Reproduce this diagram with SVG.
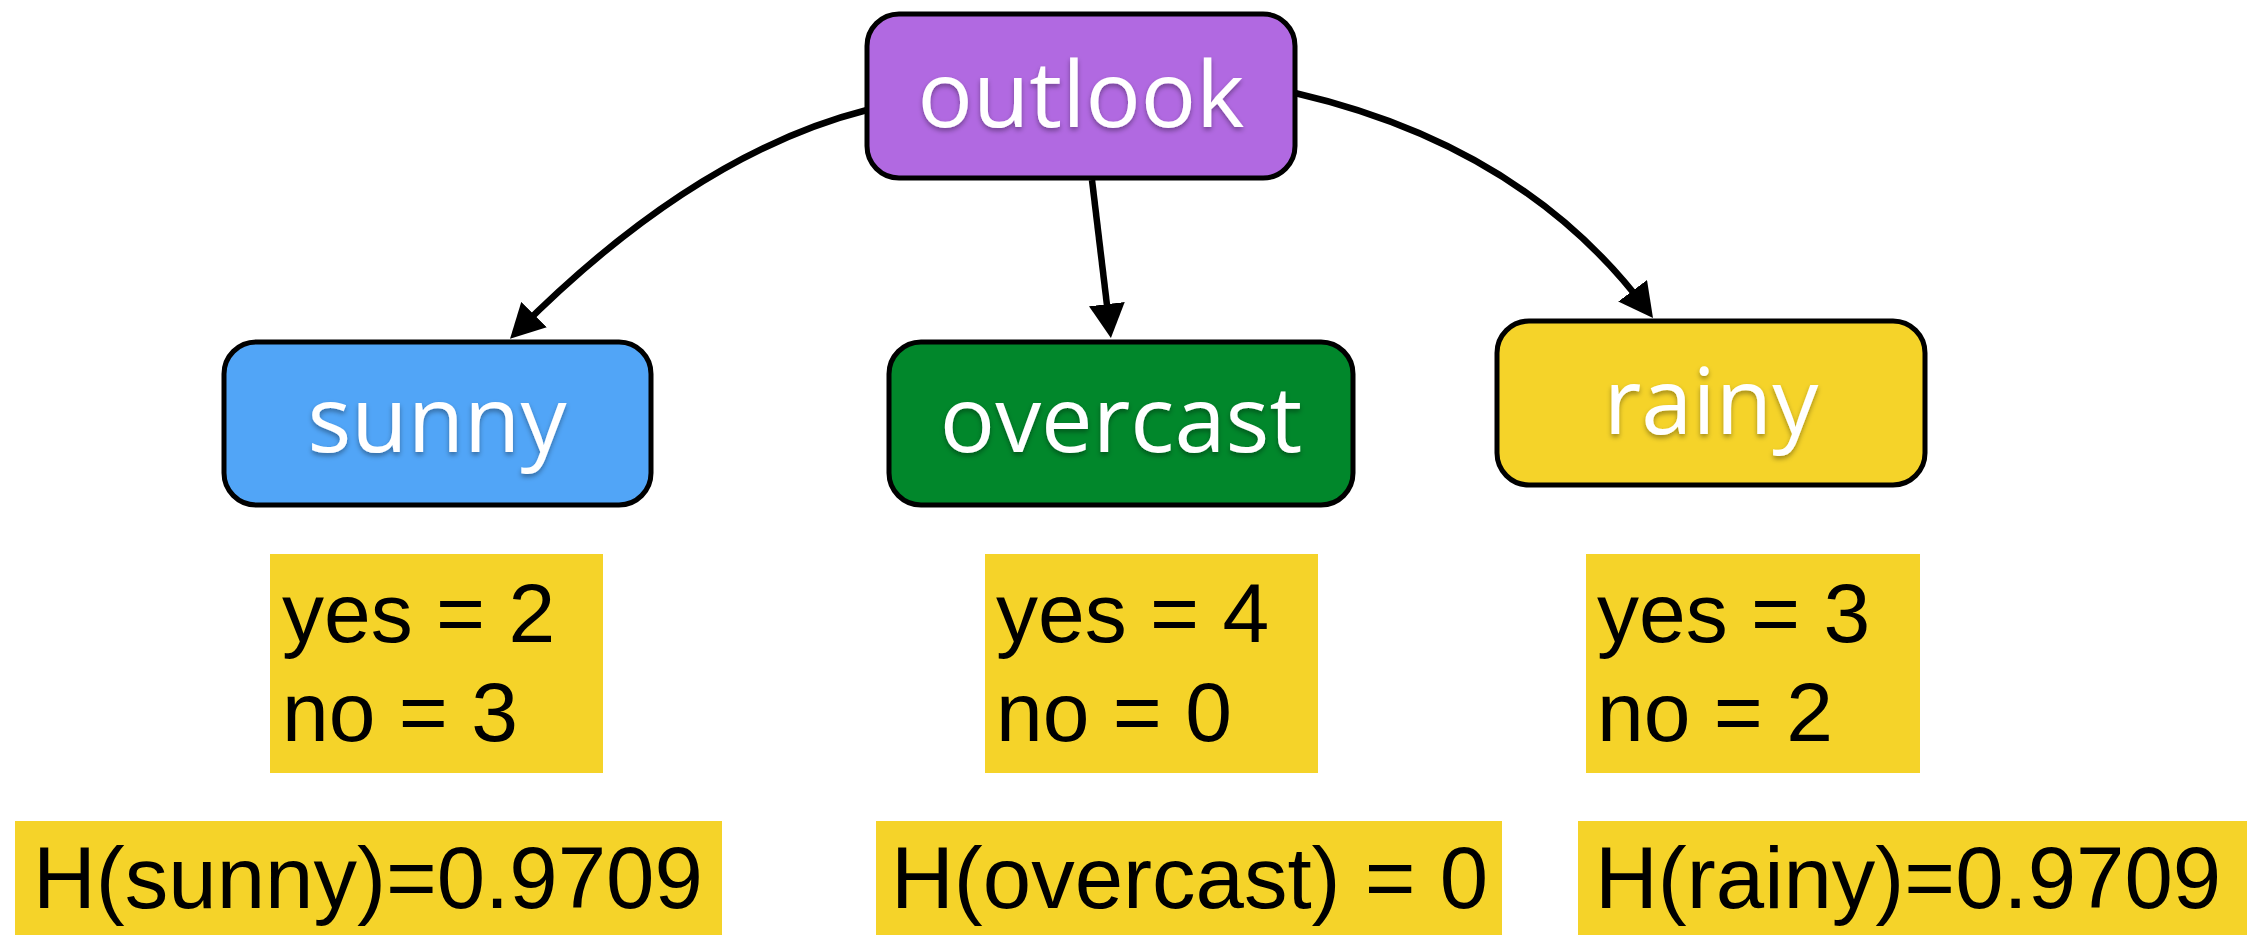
<svg xmlns="http://www.w3.org/2000/svg" width="2250" height="935" viewBox="0 0 2250 935">
  <style>
    .node { stroke: #000; stroke-width: 5; }
    .lbl { font-family: "Open Sans", "Noto Sans", sans-serif; font-size: 92px; fill: #fff; text-anchor: middle; filter: url(#shadow); }
    .stat { fill: #F5D329; }
    .st { font-family: "Liberation Sans", Arial, sans-serif; font-size: 84px; fill: #000; }
    .ht { font-family: "Liberation Sans", Arial, sans-serif; font-size: 87px; fill: #000; }
    .edge { fill: none; stroke: #000; stroke-width: 6.5; marker-end: url(#arrow); }
  </style>
  <defs>
    <marker id="arrow" markerUnits="userSpaceOnUse" viewBox="0 0 34 36" markerWidth="34" markerHeight="36" refX="23" refY="18" orient="auto">
      <path d="M0,0 L34,18 L0,36 z" fill="#000"/>
    </marker>
    <filter id="shadow" x="-10%" y="-20%" width="120%" height="150%">
      <feDropShadow dx="0" dy="3" stdDeviation="2.5" flood-color="#000" flood-opacity="0.35"/>
    </filter>
  </defs>
  <rect width="2250" height="935" fill="#fff"/>

  <g id="connectors">
    <path class="edge" d="M867,110 Q694,154 517.8,330.9"/>
    <path class="edge" d="M1092,180 L1109.6,327"/>
    <path class="edge" d="M1295,93 Q1524,146 1646.4,309.2"/>
  </g>

  <g id="node-outlook">
    <rect class="node" x="867" y="14" width="428" height="164" rx="32" fill="#B169E1"/>
    <text class="lbl" x="1081" y="127">outlook</text>
  </g>
  <g id="node-sunny">
    <rect class="node" x="224" y="342" width="427" height="163" rx="32" fill="#51A5F7"/>
    <text class="lbl" x="437" y="452">sunny</text>
  </g>
  <g id="node-overcast">
    <rect class="node" x="889" y="342" width="464" height="163" rx="32" fill="#01872B"/>
    <text class="lbl" x="1121" y="452">overcast</text>
  </g>
  <g id="node-rainy">
    <rect class="node" x="1497" y="321" width="428" height="164" rx="32" fill="#F5D329"/>
    <text class="lbl" x="1711" y="434">rainy</text>
  </g>

  <g id="counts-sunny">
    <rect class="stat" x="270" y="554" width="333" height="219"/>
    <text class="st" x="282" y="642">yes = 2</text>
    <text class="st" x="282" y="741">no = 3</text>
  </g>
  <g id="counts-overcast">
    <rect class="stat" x="985" y="554" width="333" height="219"/>
    <text class="st" x="996" y="642">yes = 4</text>
    <text class="st" x="996" y="741">no = 0</text>
  </g>
  <g id="counts-rainy">
    <rect class="stat" x="1586" y="554" width="334" height="219"/>
    <text class="st" x="1597" y="642">yes = 3</text>
    <text class="st" x="1597" y="741">no = 2</text>
  </g>

  <g id="entropy-sunny">
    <rect class="stat" x="15" y="821" width="707" height="114"/>
    <text class="ht" x="33" y="908">H(sunny)=0.9709</text>
  </g>
  <g id="entropy-overcast">
    <rect class="stat" x="876" y="821" width="626" height="114"/>
    <text class="ht" x="891" y="908">H(overcast) = 0</text>
  </g>
  <g id="entropy-rainy">
    <rect class="stat" x="1578" y="821" width="669" height="114"/>
    <text class="ht" x="1595" y="908">H(rainy)=0.9709</text>
  </g>
</svg>
